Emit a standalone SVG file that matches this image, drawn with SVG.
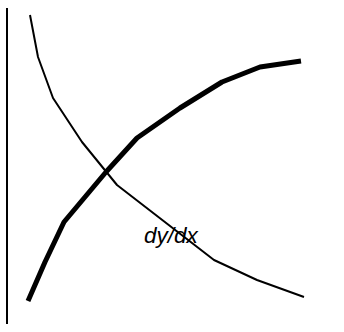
<svg xmlns="http://www.w3.org/2000/svg" width="344" height="332" viewBox="0 0 344 332">
<style>
.axis{stroke:#000;stroke-width:2;fill:none}
.thin{stroke:#000;stroke-width:2;fill:none;stroke-linejoin:round}
.thick{stroke:#000;stroke-width:5;fill:none;stroke-linejoin:round}
.lbl{font-family:"Liberation Sans",Arial,sans-serif;font-style:italic;font-size:22.5px;fill:#000}
</style>
<rect width="344" height="332" fill="#fff"/>
<g id="connectors">
<line id="axis" class="axis" x1="7" y1="8" x2="7" y2="324"/>
<polyline id="curve-down" class="thin" points="30,15 38,57 53,98 82,142 117,185 214,260 257,280 304,297"/>
<polyline id="curve-up" class="thick" points="28,301 45,262 64,222 106,172 137,138 180,108 222,82 260,67 301,61"/>
</g>
<g id="label">
<text class="lbl" x="144" y="243">dy/dx</text>
</g>
</svg>
